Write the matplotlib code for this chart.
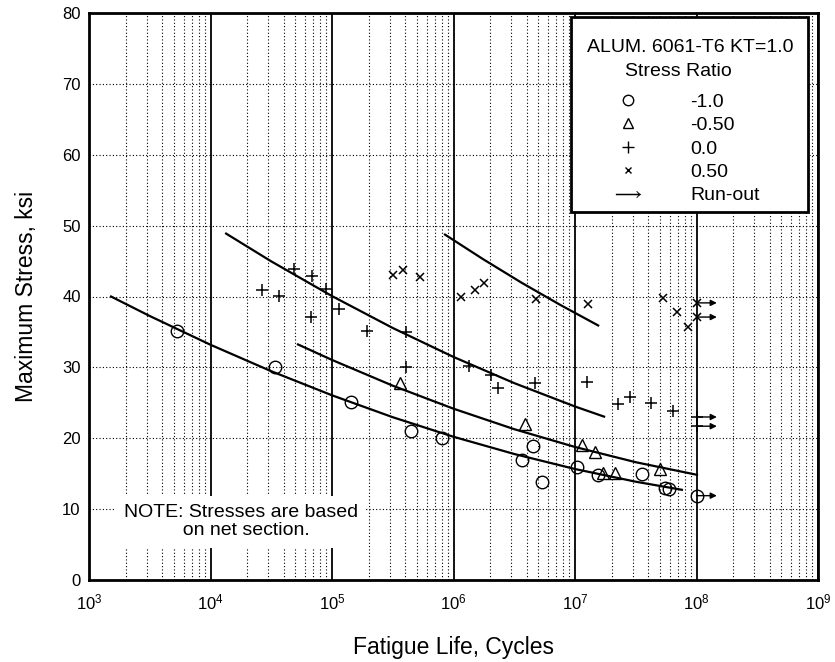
import matplotlib
matplotlib.use("Agg")
import matplotlib.pyplot as plt
from matplotlib.lines import Line2D
from matplotlib.patches import Rectangle
from matplotlib.ticker import FixedLocator, NullFormatter, LogFormatterSciNotation

plt.rcParams['font.family'] = ['Liberation Sans', 'DejaVu Sans']
plt.rcParams['mathtext.default'] = 'regular'

# ---------------- data ----------------
# Stress ratio R = -1.0 (circles)
circ_N = [5.3e3, 3.4e4, 1.43e5, 4.5e5, 8.0e5, 3.66e6, 4.5e6, 5.35e6, 1.04e7,
          1.55e7, 3.56e7, 5.5e7, 5.9e7, 1.0e8]
circ_S = [35.1, 30.0, 25.1, 21.0, 20.0, 16.9, 18.9, 13.8, 15.9,
          14.8, 15.0, 13.0, 12.8, 11.9]
circ_runout = [False] * 13 + [True]

# R = -0.50 (triangles)
tri_N = [3.63e5, 3.87e6, 1.14e7, 1.46e7, 1.70e7, 2.13e7, 5.0e7]
tri_S = [27.8, 22.0, 19.05, 18.06, 15.1, 15.1, 15.66]

# R = 0.0 (plus)
plus_N = [2.66e4, 3.66e4, 4.86e4, 6.84e4, 6.7e4, 8.9e4, 1.14e5, 1.94e5, 4.1e5,
          4.1e5, 1.34e6, 2.04e6, 2.32e6, 4.69e6, 1.26e7, 2.26e7, 2.84e7,
          4.2e7, 6.4e7, 1.0e8, 1.0e8]
plus_S = [40.9, 40.1, 43.9, 42.9, 37.1, 41.1, 38.2, 35.1, 35.0,
          30.0, 30.2, 28.9, 27.1, 27.8, 27.9, 24.8, 25.8,
          25.0, 23.8, 23.0, 21.7]
plus_runout = [False] * 19 + [True, True]

# R = 0.50 (x)
x_N = [3.18e5, 3.84e5, 5.3e5, 1.15e6, 1.5e6, 1.78e6, 4.77e6, 1.28e7,
       5.3e7, 6.9e7, 8.5e7, 1.0e8, 1.0e8]
x_S = [43.0, 43.7, 42.8, 39.9, 40.9, 41.9, 39.6, 38.9,
       39.8, 37.8, 35.7, 39.1, 37.1]
x_runout = [False] * 11 + [True, True]

# Best-fit curves
fit_circ_N = [1.49e3, 3.16e3, 1e4, 3.16e4, 1e5, 3.16e5, 1e6, 3.16e6, 1e7, 3.16e7, 7.74e7]
fit_circ_S = [40.07, 37.25, 33.19, 29.46, 26.06, 22.97, 20.21, 17.78, 15.66, 13.87, 12.70]

fit_tri_N = [5.15e4, 1e5, 3.16e5, 1e6, 3.16e6, 1e7, 3.16e7, 1.03e8]
fit_tri_S = [33.30, 31.05, 27.42, 24.17, 21.28, 18.77, 16.62, 14.81]

fit_plus_N = [1.32e4, 3.16e4, 1e5, 3.16e5, 1e6, 3.16e6, 1e7, 1.77e7]
fit_plus_S = [48.96, 44.96, 40.06, 35.56, 31.47, 27.78, 24.48, 23.00]

fit_x_N = [8.36e5, 1.74e6, 3.63e6, 7.59e6, 1.58e7]
fit_x_S = [48.82, 45.30, 41.95, 38.80, 35.84]

legend_title_1 = "ALUM. 6061-T6 KT=1.0"
legend_title_2 = "Stress Ratio"
legend_labels = ["-1.0", "-0.50", "0.0", "0.50", "Run-out"]
note_text = "NOTE: Stresses are based\n  on net section."
xlabel = "Fatigue Life, Cycles"
ylabel = "Maximum Stress, ksi"
x_ticks = [1e3, 1e4, 1e5, 1e6, 1e7, 1e8, 1e9]
x_minor = [m * d for d in [1e3, 1e4, 1e5, 1e6, 1e7, 1e8] for m in range(2, 10)]
y_ticks = [0, 10, 20, 30, 40, 50, 60, 70, 80]

# ---------------- figure ----------------
W, H = 835, 662
fig = plt.figure(figsize=(W / 100, H / 100), dpi=100)
ax = fig.add_axes([89 / W, 1 - 580 / H, 729 / W, 567 / H])
ax.set_xscale('log')
ax.set_xlim(1e3, 1e9)
ax.set_ylim(0, 80)
ax.set_axisbelow(True)

ax.xaxis.set_major_locator(FixedLocator(x_ticks))
ax.xaxis.set_major_formatter(LogFormatterSciNotation())
ax.xaxis.set_minor_locator(FixedLocator(x_minor))
ax.xaxis.set_minor_formatter(NullFormatter())
ax.yaxis.set_major_locator(FixedLocator(y_ticks))
ax.tick_params(which='both', length=0)
ax.tick_params(axis='x', labelsize=12, pad=9)
ax.tick_params(axis='y', labelsize=12, pad=6)

dot = (0, (1, 2))
ax.grid(which='major', axis='x', color='black', lw=1.3, ls='-')
ax.grid(which='minor', axis='x', color='black', lw=0.8, ls=dot)
ax.grid(which='major', axis='y', color='black', lw=0.8, ls=dot)
for s in ax.spines.values():
    s.set_linewidth(2.0)
    s.set_zorder(5)

# curves
for N, S in [(fit_circ_N, fit_circ_S), (fit_tri_N, fit_tri_S),
             (fit_plus_N, fit_plus_S), (fit_x_N, fit_x_S)]:
    ax.plot(N, S, color='black', lw=1.6, zorder=3, solid_capstyle='butt',
            solid_joinstyle='round')

mk = dict(ls='none', color='black', mfc='none', mec='black', zorder=4)
ax.plot(circ_N, circ_S, marker='o', ms=9, mew=1.0, **mk)
ax.plot(tri_N, tri_S, marker='^', ms=9, mew=1.0, **mk)
ax.plot(plus_N, plus_S, marker='+', ms=8.5, mew=1.1, **mk)
ax.plot(x_N, x_S, marker='x', ms=5.5, mew=1.1, **mk)

# run-out arrows
for N, S, R in [(circ_N, circ_S, circ_runout), (plus_N, plus_S, plus_runout),
                (x_N, x_S, x_runout)]:
    for n, s, r in zip(N, S, R):
        if r:
            ax.annotate('', xy=(n * 1.47, s), xytext=(n, s),
                        arrowprops=dict(arrowstyle='-|>', lw=1.0, color='black',
                                        shrinkA=0, shrinkB=0, mutation_scale=9),
                        zorder=4)

# note
ax.text(0.208, 0.103, note_text, transform=ax.transAxes, fontsize=14,
        ha='center', va='center', multialignment='center', linespacing=1.1,
        bbox=dict(facecolor='white', edgecolor='none', pad=6), zorder=6)

# legend box + title
frame = Rectangle((571 / W, 1 - 212 / H), 237 / W, 195 / H, transform=fig.transFigure,
                  facecolor='white', edgecolor='black', lw=2.0, zorder=6, clip_on=False)
ax.add_patch(frame)
fig.text(690 / W, 1 - 47 / H, legend_title_1, fontsize=14, ha='center', va='center', zorder=8)
fig.text(678 / W, 1 - 72 / H, legend_title_2, fontsize=14, ha='center', va='center', zorder=8)

handles = [
    Line2D([], [], ls='none', marker='o', ms=7.5, mfc='none', mec='black', mew=1.0),
    Line2D([], [], ls='none', marker='^', ms=7.5, mfc='none', mec='black', mew=1.0),
    Line2D([], [], ls='none', marker='+', ms=9, mec='black', mew=1.0),
    Line2D([], [], ls='none', marker='x', ms=5, mec='black', mew=1.0),
    Line2D([], [], ls='none', marker=r'$\longrightarrow$', ms=18, color='black', mew=0.2),
]
leg = ax.legend(handles, legend_labels, loc='upper left',
                bbox_to_anchor=(600 / W, 1 - 93 / H), bbox_transform=fig.transFigure,
                fontsize=14, frameon=False, borderpad=0, borderaxespad=0,
                handlelength=2.88, handletextpad=1.75, labelspacing=0.3)
leg.set_zorder(8)

ax.set_xlabel(xlabel, fontsize=16.5)
ax.xaxis.label.set_va('top')
ax.xaxis.set_label_coords(0.5, -0.099)
ax.set_ylabel(ylabel, fontsize=16.5)
ax.yaxis.label.set_va('center')
ax.yaxis.set_label_coords(-0.086, 0.5)

fig.savefig('out.png', dpi=100)
